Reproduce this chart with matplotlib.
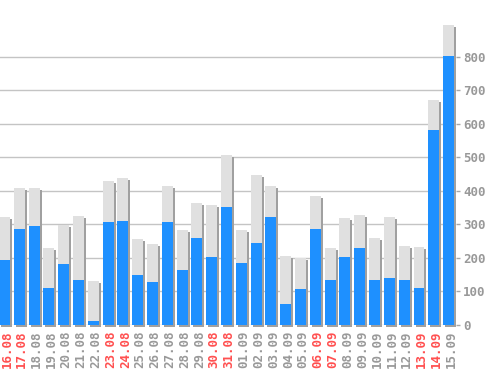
import matplotlib
matplotlib.use('Agg')
import matplotlib.pyplot as plt
import matplotlib.patheffects as pe
import matplotlib.transforms as mtransforms

# daily values
dates = ['16.08', '17.08', '18.08', '19.08', '20.08', '21.08', '22.08', '23.08',
         '24.08', '25.08', '26.08', '27.08', '28.08', '29.08', '30.08', '31.08',
         '01.09', '02.09', '03.09', '04.09', '05.09', '06.09', '07.09', '08.09',
         '09.09', '10.09', '11.09', '12.09', '13.09', '14.09', '15.09']
totals = [322, 409, 409, 230, 299, 325, 131, 430, 438, 257, 242, 415, 284, 364,
          358, 508, 284, 448, 415, 206, 200, 385, 230, 319, 328, 260, 322, 236,
          233, 672, 896]
part = [194, 287, 296, 110, 182, 134, 12, 308, 311, 149, 128, 308, 164, 260,
        203, 352, 185, 245, 322, 63, 107, 287, 134, 203, 230, 134, 140, 134,
        110, 582, 803]
weekends = ['16.08', '17.08', '23.08', '24.08', '30.08', '31.08',
            '06.09', '07.09', '13.09', '14.09']

W, H = 498, 370
fig = plt.figure(figsize=(W / 100, H / 100), dpi=100)
ax = fig.add_axes([0, 45 / H, 456 / W, 325 / H])

x = list(range(len(dates)))
shadow = [pe.SimplePatchShadow(offset=(1.44, -1.44), shadow_rgbFace='#a0a0a0', alpha=1.0),
          pe.Normal()]
gray_bars = ax.bar(x, totals, width=0.74, color='#e0e0e0', zorder=2)
for b in gray_bars:
    b.set_path_effects(shadow)
    b.set_clip_on(False)
ax.bar(x, part, width=0.74, color='#1e90ff', zorder=3)

ax.set_xlim(-0.304, 30.5)
ax.set_ylim(0, 970)
ax.set_yticks(range(0, 900, 100))
ax.yaxis.grid(True, color='#c4c4c4', linewidth=1)
ax.set_axisbelow(True)
ax.yaxis.tick_right()
ax.tick_params(axis='y', length=3, width=1, color='#a8a8a8', pad=2,
               labelsize=9, labelcolor='#999999')
for lbl in ax.get_yticklabels():
    lbl.set_fontfamily('DejaVu Sans Mono')
    lbl.set_fontweight('bold')

ax.set_xticks(x)
ax.set_xticklabels(dates, rotation=90, fontsize=9, family='DejaVu Sans Mono',
                   fontweight='bold')
ax.tick_params(axis='x', length=0, pad=4)
shift = mtransforms.ScaledTranslation(2.5 / 100, 0, fig.dpi_scale_trans)
for lbl in ax.get_xticklabels():
    lbl.set_color('#ff5050' if lbl.get_text() in weekends else '#999999')
    lbl.set_transform(lbl.get_transform() + shift)

for s in ax.spines.values():
    s.set_visible(False)

fig.savefig('out.png', dpi=100)
